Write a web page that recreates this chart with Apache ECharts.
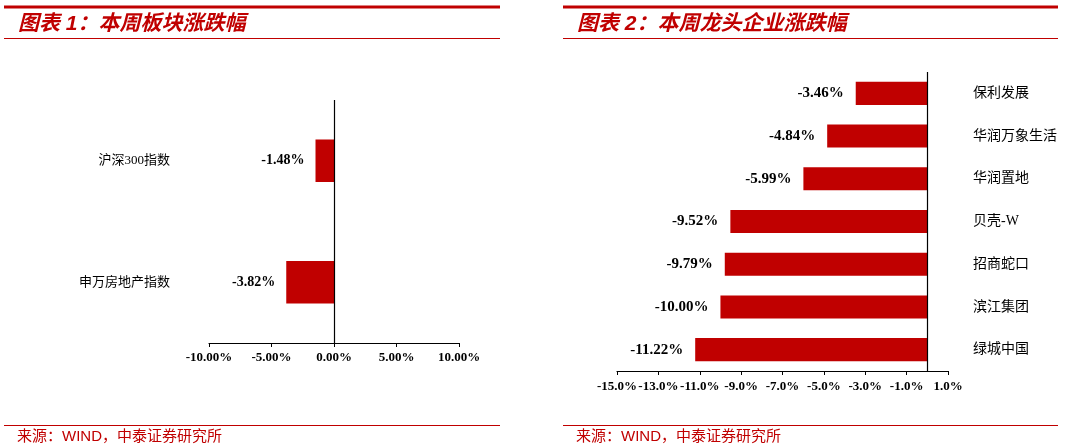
<!DOCTYPE html>
<html lang="zh">
<head>
    <meta charset="UTF-8"/>
    <script src="https://cdn.jsdelivr.net/npm/echarts@6/dist/echarts.min.js"></script>
    <title>本周涨跌幅</title>
    <style>
        html, body { margin: 0; padding: 0; background: #fff; }
    </style>
</head>
<body>
<div id="main" style="width: 1080px;height:446px;"></div>
<script type="text/javascript">
    // 图表1 数据
    var sectorNames = ['沪深300指数', '申万房地产指数'];
    var sectorValues = [-1.48, -3.82];
    // 图表2 数据
    var companyNames = ['保利发展', '华润万象生活', '华润置地', '贝壳-W', '招商蛇口', '滨江集团', '绿城中国'];
    var companyValues = [-3.46, -4.84, -5.99, -9.52, -9.79, -10.00, -11.22];

    var RED = '#c00000';
    var serif = "'Liberation Serif', 'Times New Roman', serif";
    var cjk = "'Liberation Serif', 'Noto Sans CJK SC', serif";
    var head = "'Liberation Sans', 'Noto Sans CJK SC', sans-serif";

    var myChart = echarts.init(document.getElementById('main'));

    function zeroLine() {
        return {
            silent: true,
            symbol: 'none',
            label: {show: false},
            lineStyle: {color: '#000', width: 1.2, type: 'solid'},
            data: [{xAxis: 0}]
        };
    }

    function header(x0, x1, title) {
        return [
            {type: 'line', shape: {x1: x0, y1: 7, x2: x1, y2: 7}, style: {stroke: RED, lineWidth: 3}},
            {type: 'line', shape: {x1: x0, y1: 38.5, x2: x1, y2: 38.5}, style: {stroke: RED, lineWidth: 1}},
            {type: 'text', left: x0 + 14, top: 14, style: {text: title, fill: RED, font: 'italic bold 21px ' + head}},
            {type: 'line', shape: {x1: x0, y1: 425.5, x2: x1, y2: 425.5}, style: {stroke: RED, lineWidth: 1}},
            {type: 'text', left: x0 + 13, top: 429, style: {text: '来源：WIND，中泰证券研究所', fill: RED, font: '15px ' + head}}
        ];
    }

    var option = {
        animation: false,
        grid: [
            {left: 209, top: 100, width: 250, height: 243},
            {left: 617, top: 72, width: 331, height: 299}
        ],
        xAxis: [
            {
                gridIndex: 0, type: 'value', min: -10, max: 10, interval: 5,
                axisLine: {show: true, lineStyle: {color: '#000', width: 1.2}},
                axisTick: {show: true, length: 4, lineStyle: {color: '#000'}},
                splitLine: {show: false},
                axisLabel: {
                    margin: 8, color: '#000', fontFamily: serif, fontWeight: 'bold', fontSize: 13,
                    formatter: function (v) { return v.toFixed(2) + '%'; }
                }
            },
            {
                gridIndex: 1, type: 'value', min: -15, max: 1, interval: 2,
                axisLine: {show: true, lineStyle: {color: '#000', width: 1.2}},
                axisTick: {show: true, length: 4, lineStyle: {color: '#000'}},
                splitLine: {show: false},
                axisLabel: {
                    margin: 9, color: '#000', fontFamily: serif, fontWeight: 'bold', fontSize: 13,
                    showMinLabel: true, showMaxLabel: true, hideOverlap: false,
                    formatter: function (v) { return v.toFixed(1) + '%'; }
                }
            }
        ],
        yAxis: [
            {
                gridIndex: 0, type: 'category', data: sectorNames, inverse: true,
                axisLine: {show: false}, axisTick: {show: false},
                axisLabel: {margin: 39, color: '#000', fontFamily: cjk, fontSize: 13}
            },
            {
                gridIndex: 1, type: 'category', data: companyNames, inverse: true, position: 'right',
                axisLine: {show: false}, axisTick: {show: false},
                axisLabel: {margin: 25, color: '#000', fontFamily: cjk, fontSize: 14}
            }
        ],
        series: [
            {
                type: 'bar', xAxisIndex: 0, yAxisIndex: 0, data: sectorValues,
                barCategoryGap: '65%',
                itemStyle: {color: RED},
                label: {
                    show: true, position: 'left', distance: 11, color: '#000',
                    fontFamily: serif, fontWeight: 'bold', fontSize: 14,
                    formatter: function (p) { return p.value.toFixed(2) + '%'; }
                },
                markLine: zeroLine()
            },
            {
                type: 'bar', xAxisIndex: 1, yAxisIndex: 1, data: companyValues,
                barCategoryGap: '46%',
                itemStyle: {color: RED},
                label: {
                    show: true, position: 'left', distance: 12, color: '#000',
                    fontFamily: serif, fontWeight: 'bold', fontSize: 15,
                    formatter: function (p) { return p.value.toFixed(2) + '%'; }
                },
                markLine: zeroLine()
            }
        ],
        graphic: header(4, 500, '图表 1：本周板块涨跌幅').concat(header(563, 1058, '图表 2：本周龙头企业涨跌幅'))
    };

    myChart.setOption(option);
</script>
</body>
</html>
